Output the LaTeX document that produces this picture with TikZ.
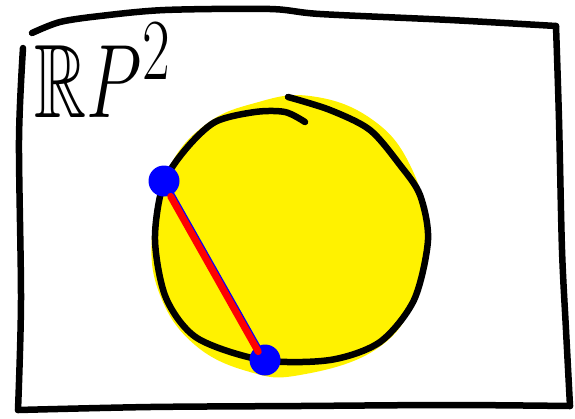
\documentclass[tikz,border=0pt]{standalone}
\usepackage{amssymb}
\usepackage{tikz}
\tikzset{
  px/.style={x=1pt, y=-1pt},
  ink/.style={black, line width=6.5pt, line cap=round, line join=round},
  disc/.style={fill=yellow, draw=none},
  chord/.style={blue, line width=6pt, line cap=round},
  rchord/.style={red, line width=7pt, line cap=round},
  endpt/.style={circle, fill=blue, inner sep=0pt, minimum size=31pt},
}
\begin{document}
\begin{tikzpicture}[px]
  \useasboundingbox (0,0) rectangle (575,418);
  % frame
  \draw[ink] plot[smooth, tension=0.5] coordinates {(32,33) (60,22) (100,16) (165,10) (270,9) (320,14) (450,20) (556,26)};
  \draw[ink] plot[smooth, tension=0.5] coordinates {(556,26) (559,120) (562,250) (566,330) (570,406)};
  \draw[ink] plot[smooth, tension=0.5] coordinates {(18,410) (150,407) (300,406) (450,405) (570,406)};
  \draw[ink] plot[smooth, tension=0.5] coordinates {(23,48) (19,140) (21,300) (18,410)};
  % label
  \node[anchor=west, inner sep=0pt, xscale=2.9, yscale=4.2] (lbl) at (34,70) {\Huge$\mathbb{R}P^2$};
  % yellow disc
  \fill[disc] plot[smooth cycle, tension=0.7] coordinates {(310,96) (370,118) (410,165) (428,235) (415,300) (375,350) (300,375) (250,372) (195,345) (160,295) (152,235) (168,170) (205,125) (255,103)};
  % outline
  \draw[ink] plot[smooth, tension=0.5] coordinates {(305,122) (285,112) (255,112) (215,122) (185,150) (163,185) (155,240) (166,298) (197,338) (262,360) (330,360) (380,342) (414,300) (428,240) (420,195) (400,165) (370,130) (330,110) (288,97)};
  % chord with end points
  \node[endpt] (p) at (164,181) {};
  \node[endpt] (q) at (265,360) {};
  \draw[chord] (p) -- (q);
  \draw[rchord, transform canvas={xshift=-2pt}, shorten <=2pt, shorten >=-6pt] (p) -- (q);
\end{tikzpicture}
\end{document}
